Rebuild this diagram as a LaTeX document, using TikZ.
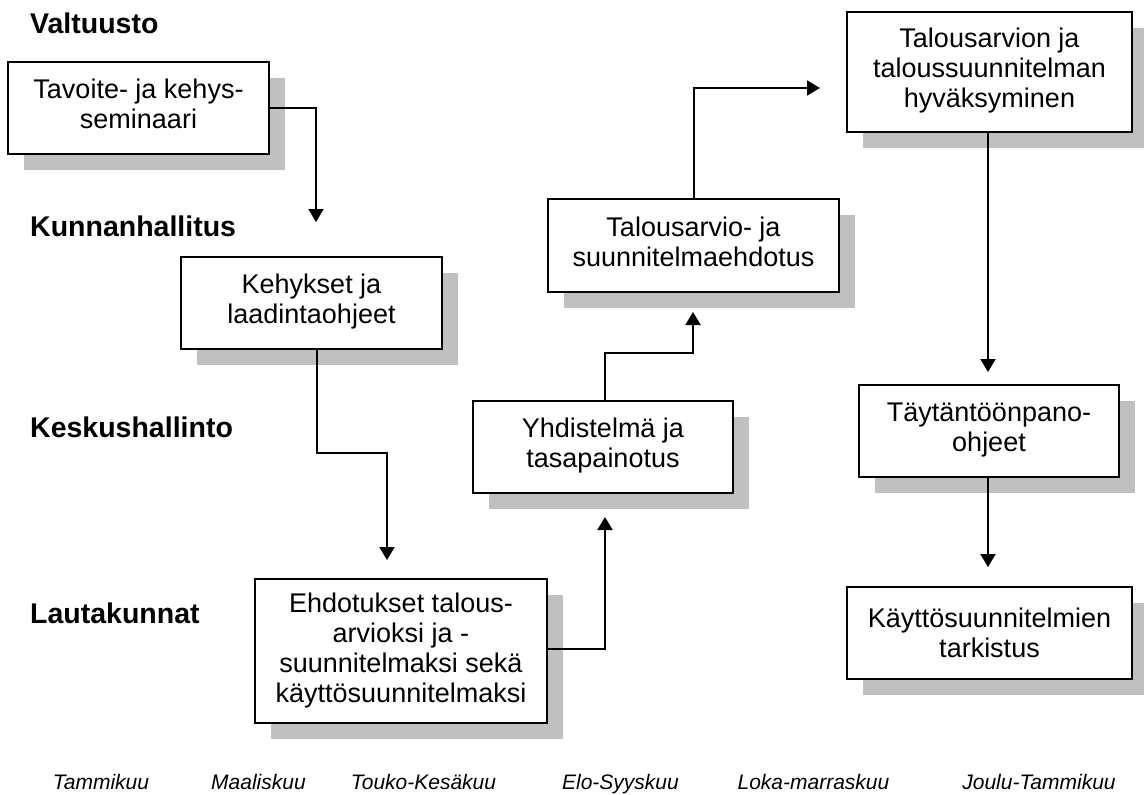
\documentclass[tikz,border=0pt]{standalone}
\usepackage{fontspec}
\setmainfont{Liberation Sans}
\usetikzlibrary{arrows.meta,shadows}
\definecolor{shadowgray}{RGB}{192,192,192}
\newcommand{\mydepth}{\rule[-8pt]{0pt}{8pt}}
\begin{document}
\begin{tikzpicture}[x=1pt,y=-1pt,
  box/.style={draw, line width=1.8pt, fill=white, align=center, inner sep=0pt,
    font=\fontsize{27}{30}\selectfont,
    drop shadow={shadow xshift=16pt, shadow yshift=-16pt, fill=shadowgray, opacity=1}},
  arr/.style={line width=2pt, -{Triangle[width=15pt,length=13pt]}},
  lane/.style={anchor=base west, inner sep=0pt, font=\fontsize{28.5}{30}\selectfont\bfseries},
  month/.style={anchor=base, inner sep=0pt, font=\fontsize{21}{24}\selectfont\itshape}]
\useasboundingbox (0,0) rectangle (1144,795);

% lane labels
\node[lane] (l1) at (30,33) {Valtuusto};
\node[lane] (l2) at (30,236) {Kunnanhallitus};
\node[lane] (l3) at (30,437) {Keskushallinto};
\node[lane] (l4) at (30,623) {Lautakunnat};

% boxes
\node[box, minimum width=261pt, minimum height=92pt] (b1) at (138.5,108) {Tavoite- ja kehys-\\seminaari\mydepth};
\node[box, minimum width=261pt, minimum height=92pt] (b2) at (311.5,303) {Kehykset ja\\laadintaohjeet\mydepth};
\node[box, minimum width=292pt, minimum height=144pt] (b3) at (401,651) {Ehdotukset talous-\\arvioksi ja -\\suunnitelmaksi sekä\\käyttösuunnitelmaksi};
\node[box, minimum width=260pt, minimum height=92pt] (b4) at (603,447) {Yhdistelmä ja\\tasapainotus\mydepth};
\node[box, minimum width=291pt, minimum height=93pt] (b5) at (693.5,245.5) {Talousarvio- ja\\suunnitelmaehdotus\mydepth};
\node[box, minimum width=285pt, minimum height=120pt] (b6) at (989.5,72) {Talousarvion ja\\taloussuunnitelman\\hyväksyminen\mydepth};
\node[box, minimum width=260pt, minimum height=92pt] (b7) at (989,431) {Täytäntöönpano-\\ohjeet\mydepth};
\node[box, minimum width=285pt, minimum height=92pt] (b8) at (989.5,633) {Käyttösuunnitelmien\\tarkistus};

% connector end points
\coordinate (c1) at (316,222);
\coordinate (m2) at (387,453);
\coordinate (c2) at (387,560);
\coordinate (c3) at (605,517);
\coordinate (m4) at (693,353);
\coordinate (c4) at (693,312);
\coordinate (c5) at (820,88);
\coordinate (c6) at (988,372);
\coordinate (c7) at (988,567);

% connectors
\draw[arr] (b1.east) -| (c1);
\draw[arr] ([xshift=5.5pt]b2.south) |- (m2) -- (c2);
\draw[arr] ([yshift=2pt]b3.east) -| (c3);
\draw[arr] ([xshift=2pt]b4.north) |- (m4) -- (c4);
\draw[arr] (b5.north) |- (c5);
\draw[arr] (b6.south -| c6) -- (c6);
\draw[arr] (b7.south -| c7) -- (c7);

% months
\node[month] (t1) at (101,789) {Tammikuu};
\node[month] (t2) at (258.5,789) {Maaliskuu};
\node[month] (t3) at (423.5,789) {Touko-Kesäkuu};
\node[month] (t4) at (620.5,789) {Elo-Syyskuu};
\node[month] (t5) at (813.5,789) {Loka-marraskuu};
\node[month] (t6) at (1039,789) {Joulu-Tammikuu};
\end{tikzpicture}
\end{document}
